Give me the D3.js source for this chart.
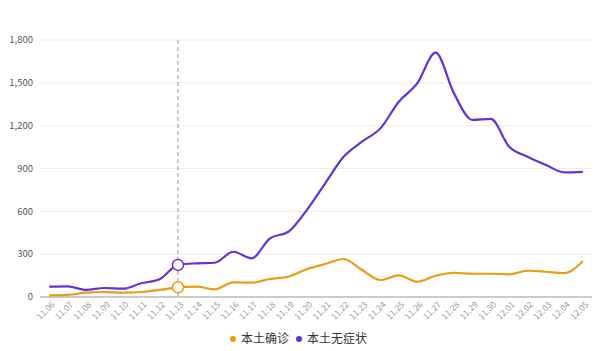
<!DOCTYPE html>
<html>
<head>
<meta charset="utf-8">
<script src="https://cdn.jsdelivr.net/npm/d3@7"></script>
<style>
  body { margin: 0; background: #fff; }
  svg { font-family: "Noto Sans CJK SC", "Open Sans", sans-serif; }
  .grid line { stroke: #ececec; }
  .ylab { font-size: 9.5px; fill: #555; }
  .xlab { font-size: 8.5px; fill: #999; }
  .legend text { font-size: 12px; fill: #333; }
</style>
</head>
<body>
<div id="chart"></div>
<script>
const dates = ['11.06','11.07','11.08','11.09','11.10','11.11','11.12','11.13','11.14','11.15',
  '11.16','11.17','11.18','11.19','11.20','11.21','11.22','11.23','11.24','11.25',
  '11.26','11.27','11.28','11.29','11.30','12.01','12.02','12.03','12.04','12.05'];

const confirmed = [12, 15, 30, 35, 30, 35, 50, 68, 72, 54,
  103, 100, 126, 142, 194, 231, 266, 189, 119, 152,
  107, 149, 170, 163, 163, 159, 184, 177, 168, 250];

const asymptomatic = [72, 75, 50, 63, 58, 96, 124, 225, 236, 240,
  317, 271, 411, 457, 609, 796, 982, 1088, 1181, 1368,
  1496, 1711, 1426, 1240, 1247, 1053, 982, 924, 873, 877];

const yTicks = [0, 300, 600, 900, 1200, 1500, 1800];

const series = [
  {name: '本土确诊', values: confirmed, color: '#eb9b12'},
  {name: '本土无症状', values: asymptomatic, color: '#6430da'}
];

const width = 601, height = 351;
const margin = ({top: 40, right: 9, bottom: 54, left: 40});
const focusIdx = 7;

const svg = d3.select('#chart').append('svg')
  .attr('width', width)
  .attr('height', height);

const x = d3.scaleBand()
  .domain(dates)
  .range([margin.left, width - margin.right]);

const y = d3.scaleLinear()
  .domain([0, 1800])
  .range([height - margin.bottom, margin.top]);

const cx = d => x(d) + x.bandwidth() / 2;

// grid lines + y labels
const grid = svg.append('g').attr('class', 'grid');
grid.selectAll('line')
  .data(yTicks.slice(1))
  .enter().append('line')
  .attr('x1', margin.left).attr('x2', width - margin.right)
  .attr('y1', d => y(d)).attr('y2', d => y(d));

svg.append('g').selectAll('text')
  .data(yTicks)
  .enter().append('text')
  .attr('class', 'ylab')
  .attr('text-anchor', 'end')
  .attr('x', margin.left - 7)
  .attr('y', d => y(d))
  .attr('dy', '0.35em')
  .text(d => d3.format(',')(d));

// x axis line
svg.append('line')
  .attr('x1', margin.left).attr('x2', width - margin.right)
  .attr('y1', y(0)).attr('y2', y(0))
  .attr('stroke', '#999');

svg.append('g').selectAll('text')
  .data(dates)
  .enter().append('text')
  .attr('class', 'xlab')
  .attr('text-anchor', 'end')
  .attr('transform', d => `translate(${cx(d) + 4},${y(0) + 6}) rotate(-45)`)
  .attr('dy', '0.35em')
  .text(d => d);

// vertical pointer line
svg.append('line')
  .attr('x1', cx(dates[focusIdx])).attr('x2', cx(dates[focusIdx]))
  .attr('y1', y(1800)).attr('y2', y(0))
  .attr('stroke', '#999')
  .attr('stroke-dasharray', '4,3');

const line = d3.line()
  .x((d, i) => cx(dates[i]))
  .y(d => y(d))
  .curve(d3.curveMonotoneX);

svg.selectAll('path.series')
  .data(series)
  .enter().append('path')
  .attr('class', 'series')
  .attr('fill', 'none')
  .attr('stroke', d => d.color)
  .attr('stroke-width', 2.2)
  .attr('d', d => line(d.values));

svg.selectAll('circle.focus')
  .data(series)
  .enter().append('circle')
  .attr('class', 'focus')
  .attr('cx', cx(dates[focusIdx]))
  .attr('cy', d => y(d.values[focusIdx]))
  .attr('r', 5.5)
  .attr('fill', '#fff')
  .attr('stroke', d => d.color)
  .attr('stroke-width', 1.5);

// legend
const legend = svg.append('g').attr('class', 'legend')
  .attr('transform', `translate(0, 339)`);
const legendPos = [233, 299];
const lg = legend.selectAll('g')
  .data(series)
  .enter().append('g')
  .attr('transform', (d, i) => `translate(${legendPos[i]},0)`);
lg.append('circle')
  .attr('r', 3)
  .attr('fill', d => d.color);
lg.append('text')
  .attr('x', 8)
  .attr('dy', '0.35em')
  .text(d => d.name);
</script>
</body>
</html>
